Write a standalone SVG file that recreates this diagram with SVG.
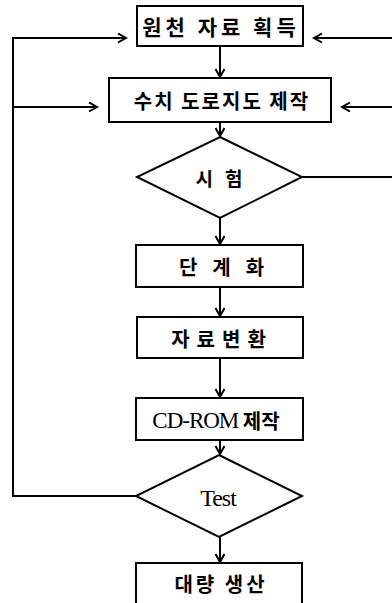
<svg xmlns="http://www.w3.org/2000/svg" width="392" height="603" viewBox="0 0 392 603">
<style>
.box{fill:#fff;stroke:#000;stroke-width:2}
.ln{fill:none;stroke:#000;stroke-width:2}
.ko{font-family:"Noto Sans CJK KR","Noto Sans",sans-serif;font-weight:bold;font-size:20px;fill:#000;text-anchor:middle;dominant-baseline:central}
.en{font-family:"Liberation Serif",serif;fill:#000;text-anchor:middle;dominant-baseline:central}
</style>
<defs>
<marker id="ah" markerUnits="userSpaceOnUse" markerWidth="12" markerHeight="12" refX="9" refY="5" orient="auto">
<path d="M1,0.5 L9,5 L1,9.5" fill="none" stroke="#000" stroke-width="2"/>
</marker>
</defs>
<rect width="392" height="603" fill="#fff"/>
<g id="connectors">
<path class="ln" d="M220,46 V77" marker-end="url(#ah)"/>
<path class="ln" d="M220,122 V136" marker-end="url(#ah)"/>
<path class="ln" d="M220,218 V244" marker-end="url(#ah)"/>
<path class="ln" d="M220,287 V316" marker-end="url(#ah)"/>
<path class="ln" d="M220,358 V397" marker-end="url(#ah)"/>
<path class="ln" d="M220,440 V454" marker-end="url(#ah)"/>
<path class="ln" d="M220,537 V562" marker-end="url(#ah)"/>
<path class="ln" d="M136,496 H13 V38 H126" marker-end="url(#ah)"/>
<path class="ln" d="M13,107 H97" marker-end="url(#ah)"/>
<path class="ln" d="M392,38 H314" marker-end="url(#ah)"/>
<path class="ln" d="M392,107 H342" marker-end="url(#ah)"/>
<path class="ln" d="M302,177 H392"/>
</g>
<g id="n1">
<rect class="box" x="137" y="6" width="166" height="40"/>
<text class="ko" x="221" y="26" style="font-size:21px" letter-spacing="4">원천 자료 획득</text>
</g>
<g id="n2">
<rect class="box" x="109" y="78" width="222" height="44"/>
<text class="ko" x="222" y="100" letter-spacing="2">수치 도로지도 제작</text>
</g>
<g id="n3">
<polygon class="box" points="220,137 302,177 220,218 137,177"/>
<text class="ko" x="225" y="177" style="font-size:19px" letter-spacing="12">시험</text>
</g>
<g id="n4">
<rect class="box" x="136" y="245" width="167" height="42"/>
<text class="ko" x="229" y="266" letter-spacing="15">단계화</text>
</g>
<g id="n5">
<rect class="box" x="137" y="317" width="166" height="41"/>
<text class="ko" x="222" y="338" letter-spacing="7">자료변환</text>
</g>
<g id="n6">
<rect class="box" x="136" y="398" width="167" height="42"/>
<text x="216" y="420" dominant-baseline="central" text-anchor="middle"><tspan class="en" style="font-size:23px" letter-spacing="-1">CD-ROM</tspan><tspan font-family="Noto Sans CJK KR, sans-serif" font-weight="bold" font-size="20"> 제작</tspan></text>
</g>
<g id="n7">
<polygon class="box" points="219,455 302,496 219,537 136,496"/>
<text class="en" x="218" y="498" style="font-size:24px" letter-spacing="-1">Test</text>
</g>
<g id="n8">
<path class="box" d="M136,604 V563 H302 V604"/>
<text class="ko" x="221" y="583" letter-spacing="3">대량 생산</text>
</g>
</svg>
